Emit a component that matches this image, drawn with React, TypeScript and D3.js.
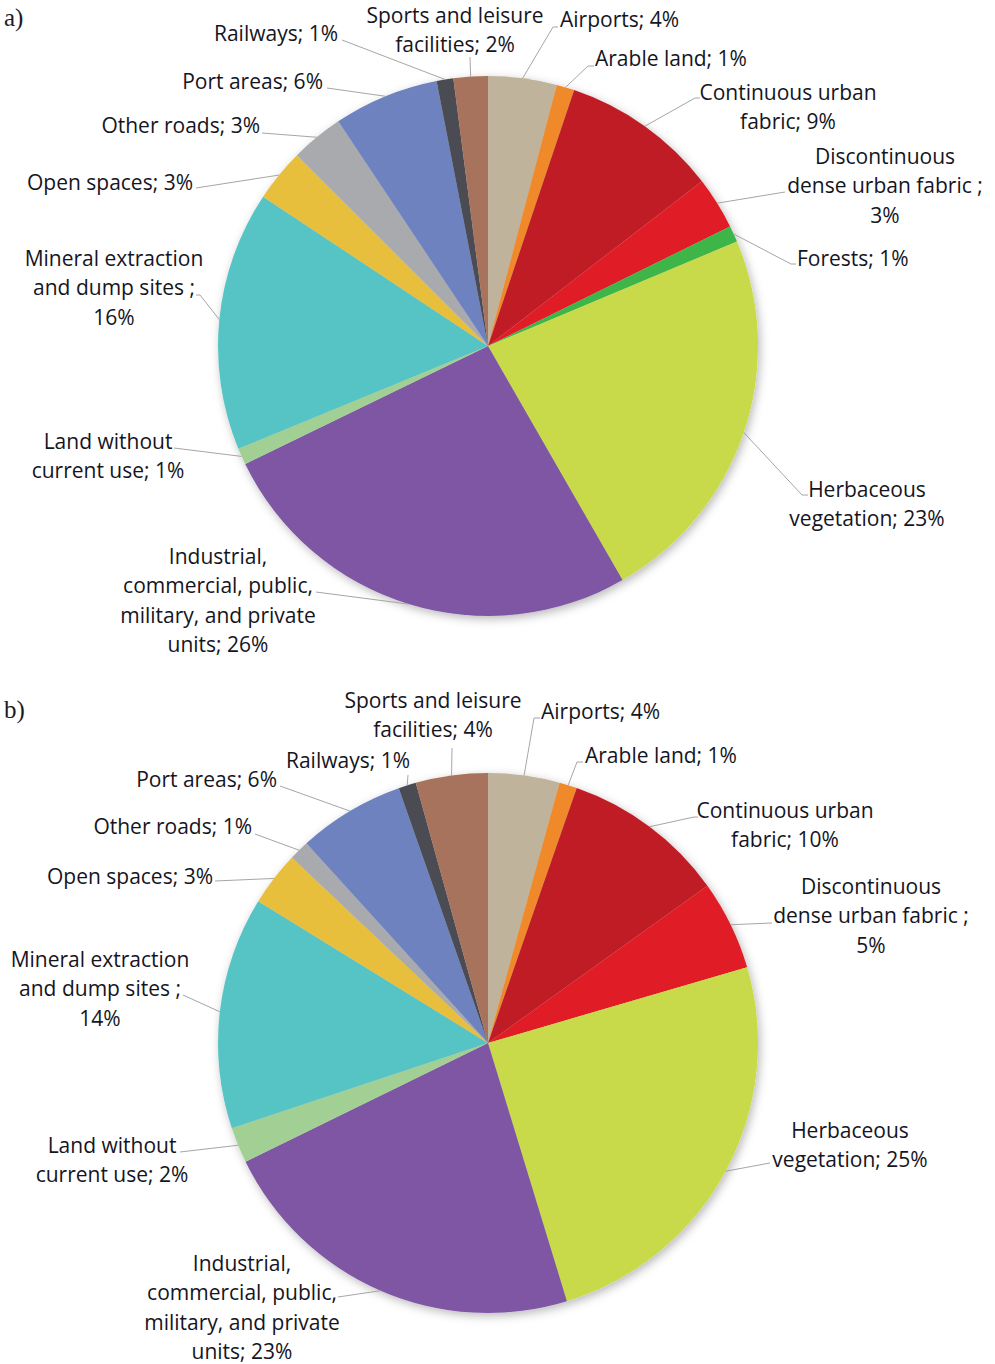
import React from "react";
import * as d3 from "d3";

const categories = [
  "Airports",
  "Arable land",
  "Continuous urban fabric",
  "Discontinuous dense urban fabric ",
  "Forests",
  "Herbaceous vegetation",
  "Industrial, commercial, public, military, and private units",
  "Land without current use",
  "Mineral extraction and dump sites ",
  "Open spaces",
  "Other roads",
  "Port areas",
  "Railways",
  "Sports and leisure facilities",
];
// shares (percent)
const sharesA = [4.1, 1.07, 9.39, 3.14, 0.98, 23.02, 26.1, 0.99, 15.54, 3.16, 3.15, 6.31, 1.0, 2.05];
const sharesB = [4.27, 1.06, 9.77, 5.37, 0, 24.81, 22.47, 2.14, 13.91, 3.26, 1.2, 6.38, 1.05, 4.31];
// printed percentages
const pctA = [4, 1, 9, 3, 1, 23, 26, 1, 16, 3, 3, 6, 1, 2];
const pctB = [4, 1, 10, 5, 0, 25, 23, 2, 14, 3, 1, 6, 1, 4];
const colors = [
  "#BFB39B",
  "#F0892C",
  "#C01F27",
  "#E01F26",
  "#3DB54A",
  "#C8DA48",
  "#7F57A4",
  "#A2D094",
  "#57C4C4",
  "#E8BE3E",
  "#A9AAAD",
  "#6E82C0",
  "#4B4C53",
  "#A8735D",
];

type Lay = {
  x: number;
  y: number;
  anchor: "start" | "middle" | "end";
  breaks: number[];
  end: [number, number];
  elbow?: [number, number];
};

const layoutA: Record<string, Lay> = {
  "Airports": { x: 560, y: 19, anchor: "start", breaks: [2], elbow: [553, 27], end: [558, 27] },
  "Arable land": { x: 595, y: 58, anchor: "start", breaks: [3], elbow: [588, 66], end: [594, 66] },
  "Continuous urban fabric": { x: 788, y: 92, anchor: "middle", breaks: [2, 2], elbow: [695, 98], end: [700, 98] },
  "Discontinuous dense urban fabric ": { x: 885, y: 156, anchor: "middle", breaks: [1, 4, 1], end: [785, 192] },
  "Forests": { x: 797, y: 258, anchor: "start", breaks: [2], elbow: [791, 264], end: [796, 264] },
  "Herbaceous vegetation": { x: 867, y: 489, anchor: "middle", breaks: [1, 2], elbow: [802, 495], end: [808, 495] },
  "Industrial, commercial, public, military, and private units": { x: 218, y: 556, anchor: "middle", breaks: [1, 2, 3, 2], end: [316, 592] },
  "Land without current use": { x: 108, y: 441, anchor: "middle", breaks: [2, 3], end: [174, 448] },
  "Mineral extraction and dump sites ": { x: 114, y: 258, anchor: "middle", breaks: [2, 4, 1], elbow: [200, 295], end: [196, 295] },
  "Open spaces": { x: 193, y: 182, anchor: "end", breaks: [3], end: [196, 188] },
  "Other roads": { x: 260, y: 125, anchor: "end", breaks: [3], end: [262, 133] },
  "Port areas": { x: 323, y: 81, anchor: "end", breaks: [3], end: [327, 88] },
  "Railways": { x: 338, y: 33, anchor: "end", breaks: [2], end: [342, 40] },
  "Sports and leisure facilities": { x: 455, y: 15, anchor: "middle", breaks: [3, 2], end: [470, 57] },
};

const layoutB: Record<string, Lay> = {
  "Airports": { x: 541, y: 711, anchor: "start", breaks: [2], elbow: [534, 718], end: [540, 718] },
  "Arable land": { x: 585, y: 755, anchor: "start", breaks: [3], elbow: [577, 762], end: [583, 762] },
  "Continuous urban fabric": { x: 785, y: 810, anchor: "middle", breaks: [2, 2], elbow: [694, 817], end: [698, 817] },
  "Discontinuous dense urban fabric ": { x: 871, y: 886, anchor: "middle", breaks: [1, 4, 1], end: [772, 923] },
  "Herbaceous vegetation": { x: 850, y: 1130, anchor: "middle", breaks: [1, 2], end: [770, 1163] },
  "Industrial, commercial, public, military, and private units": { x: 242, y: 1263, anchor: "middle", breaks: [1, 2, 3, 2], end: [338, 1297] },
  "Land without current use": { x: 112, y: 1145, anchor: "middle", breaks: [2, 3], end: [180, 1152] },
  "Mineral extraction and dump sites ": { x: 100, y: 959, anchor: "middle", breaks: [2, 4, 1], end: [183, 995] },
  "Open spaces": { x: 213, y: 876, anchor: "end", breaks: [3], end: [215, 881] },
  "Other roads": { x: 252, y: 826, anchor: "end", breaks: [3], end: [255, 834] },
  "Port areas": { x: 277, y: 779, anchor: "end", breaks: [3], end: [280, 786] },
  "Railways": { x: 348, y: 760, anchor: "middle", breaks: [2], end: [408, 775] },
  "Sports and leisure facilities": { x: 433, y: 700, anchor: "middle", breaks: [3, 2], end: [452, 748] },
};

const LINE_H = 29.5;
const R = 270;

function splitLines(text: string, breaks: number[]): string[] {
  const words = text.split(" ");
  const out: string[] = [];
  let i = 0;
  for (const b of breaks) {
    out.push(words.slice(i, i + b).join(" "));
    i += b;
  }
  if (i < words.length) out[out.length - 1] += " " + words.slice(i).join(" ");
  return out;
}

type Datum = { name: string; value: number; pct: number; color: string };

function Pie({ shares, pcts, cx, cy, layout, id }: { shares: number[]; pcts: number[]; cx: number; cy: number; layout: Record<string, Lay>; id: string }) {
  const data: Datum[] = categories
    .map((c, i) => ({ name: c, value: shares[i], pct: pcts[i], color: colors[i] }))
    .filter((d) => d.value > 0);
  const pie = d3.pie<Datum>().sort(null).value((d) => d.value);
  const arcs = pie(data);
  const arc = d3.arc<d3.PieArcDatum<Datum>>().innerRadius(0).outerRadius(R);
  return (
    <g>
      <g transform={`translate(${cx},${cy})`} filter={`url(#shadow${id})`}>
        {arcs.map((a) => (
          <path key={a.data.name} d={arc(a) || ""} fill={a.data.color} />
        ))}
      </g>
      {arcs.map((a) => {
        const L = layout[a.data.name];
        if (!L) return null;
        const mid = (a.startAngle + a.endAngle) / 2;
        const sx = cx + R * Math.sin(mid);
        const sy = cy - R * Math.cos(mid);
        const pts: [number, number][] = [[sx, sy]];
        if (L.elbow) pts.push(L.elbow);
        pts.push(L.end);
        const lines = splitLines(`${a.data.name}; ${a.data.pct}%`, L.breaks);
        return (
          <g key={"l" + a.data.name}>
            <polyline points={pts.map((p) => p.join(",")).join(" ")} fill="none" stroke="#A6A6A6" strokeWidth={1} />
            <text textAnchor={L.anchor} fontFamily="'Open Sans', sans-serif" fontSize={21} fill="#15151E">
              {lines.map((ln, k) => (
                <tspan key={k} x={L.x} y={L.y + k * LINE_H + 7.5}>
                  {ln}
                </tspan>
              ))}
            </text>
          </g>
        );
      })}
    </g>
  );
}

export default function App() {
  return (
    <svg width={995} height={1364} style={{ position: "absolute", left: 0, top: 0, background: "#fff" }}>
      <defs>
        {["a", "b"].map((id) => (
          <filter key={id} id={`shadow${id}`} x="-20%" y="-20%" width="140%" height="140%">
            <feDropShadow dx={2} dy={3} stdDeviation={5} floodColor="#000" floodOpacity={0.28} />
          </filter>
        ))}
      </defs>
      <rect width={995} height={1364} fill="#fff" />
      <text x={4} y={26} fontFamily="'Liberation Serif', serif" fontSize={25} fill="#1B1B24">a)</text>
      <text x={4} y={718} fontFamily="'Liberation Serif', serif" fontSize={25} fill="#1B1B24">b)</text>
      <Pie shares={sharesA} pcts={pctA} cx={488} cy={346} layout={layoutA} id="a" />
      <Pie shares={sharesB} pcts={pctB} cx={488} cy={1043} layout={layoutB} id="b" />
    </svg>
  );
}
